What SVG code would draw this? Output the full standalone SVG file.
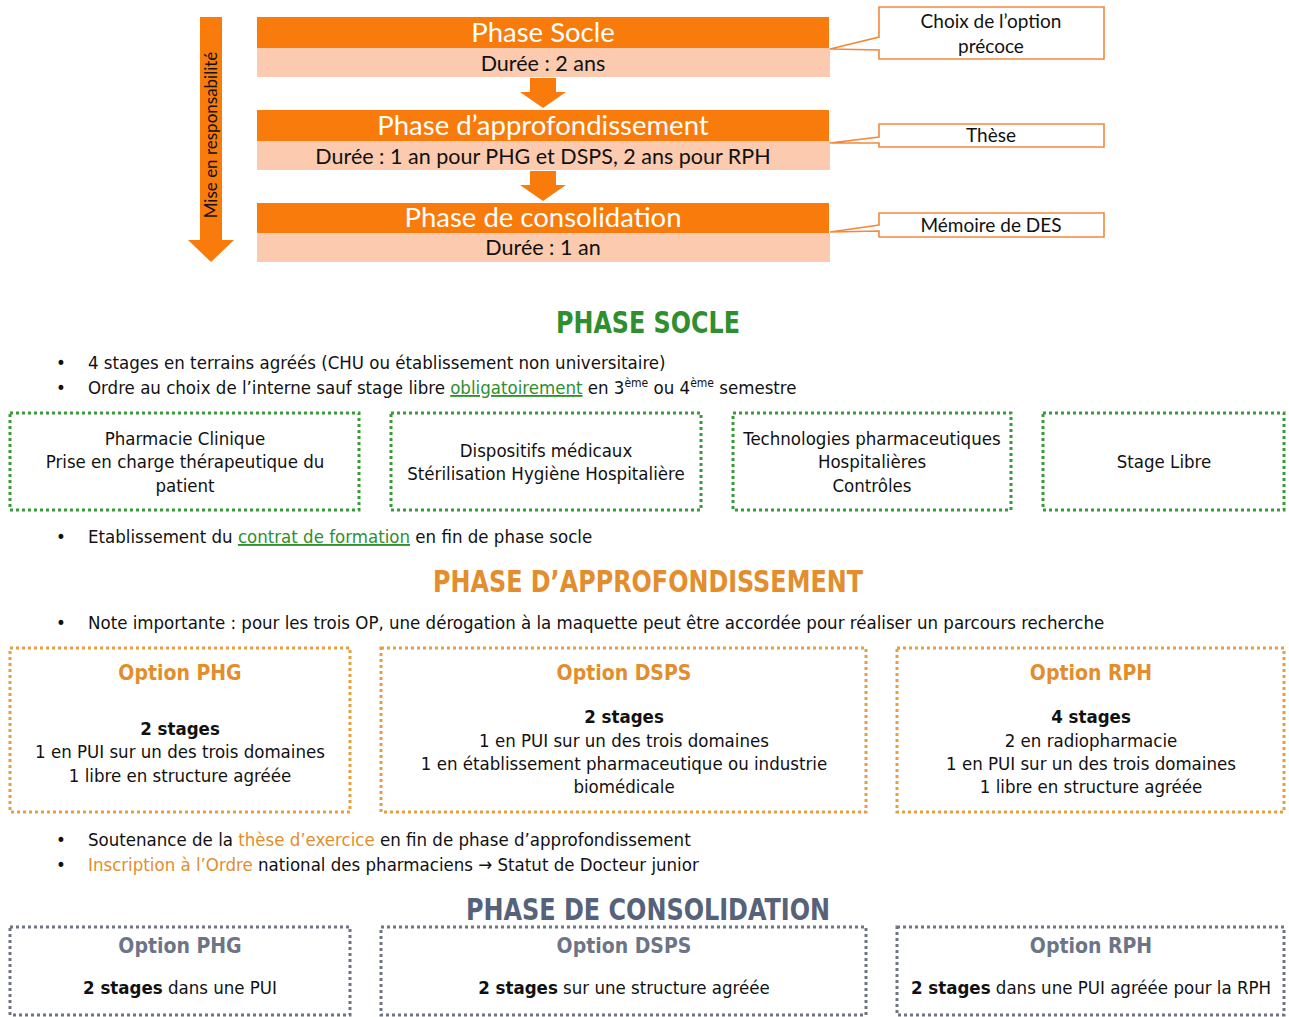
<svg xmlns="http://www.w3.org/2000/svg" width="1289" height="1017" viewBox="0 0 1289 1017">
<style>
.hdr{fill:#F97B0C}
.sub{fill:#FCCAAE}
.ht{font-family:Lato,"Open Sans",sans-serif;font-size:27.5px;fill:#fff;text-anchor:middle}
.st{font-family:Lato,"Open Sans",sans-serif;font-size:21.5px;fill:#111;text-anchor:middle}
.co{fill:#fff;stroke:#F5883A;stroke-width:1.6}
.ct{font-family:Lato,"Open Sans",sans-serif;font-size:19px;fill:#111;text-anchor:middle}
.b{font-family:"DejaVu Sans Condensed","DejaVu Sans",sans-serif;font-stretch:condensed;font-size:18.5px;fill:#111}
.c{text-anchor:middle}
.bold{font-weight:bold}
.title{font-family:"DejaVu Sans Condensed","DejaVu Sans",sans-serif;font-stretch:condensed;font-weight:bold;font-size:30px;text-anchor:middle}
.opt{font-size:21px;font-weight:bold}
.gbox{fill:none;stroke:#3A9A3A;stroke-width:3;stroke-dasharray:3 3}
.obox{fill:none;stroke:#E3A040;stroke-width:3;stroke-dasharray:3 3}
.ybox{fill:none;stroke:#6E7482;stroke-width:3;stroke-dasharray:3 3}
.green{fill:#2F8F2F}
.orange{fill:#E38D2C}
.gray{fill:#56627A}
.ogray{fill:#6C7587}
.arrow{fill:#F97B0C}
</style>

<g id="responsabilite">
<polygon class="arrow" points="200,17 222,17 222,240 234,240 211,262 188,240 200,240"/>
<text transform="translate(217,135) rotate(-90)" style="font-family:Lato,'Open Sans',sans-serif;font-size:17px;fill:#111;text-anchor:middle">Mise en responsabilité</text>
</g>

<g id="phase-socle-box">
<rect class="hdr" x="257" y="17" width="572" height="31"/>
<rect class="sub" x="257" y="48" width="573" height="29"/>
<text class="ht" x="543" y="42">Phase Socle</text>
<text class="st" x="543" y="71">Durée : 2 ans</text>
</g>

<g id="phase-approfondissement-box">
<rect class="hdr" x="257" y="110" width="572" height="31"/>
<rect class="sub" x="257" y="141" width="573" height="29"/>
<text class="ht" x="543" y="135">Phase d’approfondissement</text>
<text class="st" x="543" y="164">Durée : 1 an pour PHG et DSPS, 2 ans pour RPH</text>
</g>

<g id="phase-consolidation-box">
<rect class="hdr" x="257" y="203" width="572" height="30"/>
<rect class="sub" x="257" y="233" width="573" height="29"/>
<text class="ht" x="543" y="227">Phase de consolidation</text>
<text class="st" x="543" y="255">Durée : 1 an</text>
</g>

<g id="connectors">
<polygon class="arrow" points="530,78 556,78 556,92 566,92 543,108 520,92 530,92"/>
<polygon class="arrow" points="530,171 556,171 556,185 566,185 543,201 520,185 530,185"/>
</g>

<g id="callout-choix">
<polygon class="co" points="879,7 1104,7 1104,59 879,59 879,50 830,49 879,37"/>
<text class="ct" x="991" y="28">Choix de l’option</text>
<text class="ct" x="991" y="53">précoce</text>
</g>
<g id="callout-these">
<polygon class="co" points="879,124 1104,124 1104,147 879,147 879,143 830,143 879,137"/>
<text class="ct" x="991" y="142">Thèse</text>
</g>
<g id="callout-memoire">
<polygon class="co" points="879,213 1104,213 1104,237 879,237 879,231 830,232 879,225"/>
<text class="ct" x="991" y="232">Mémoire de DES</text>
</g>

<g id="section-socle">
<text class="title green" x="648" y="333" textLength="184" lengthAdjust="spacingAndGlyphs">PHASE SOCLE</text>
<text class="b" x="56" y="369">•</text>
<text class="b" x="88" y="369">4 stages en terrains agréés (CHU ou établissement non universitaire)</text>
<text class="b" x="56" y="394">•</text>
<text class="b" x="88" y="394">Ordre au choix de l’interne sauf stage libre <tspan class="green" text-decoration="underline">obligatoirement</tspan> en 3<tspan font-size="12" dy="-7">ème</tspan><tspan dy="7"> ou 4</tspan><tspan font-size="12" dy="-7">ème</tspan><tspan dy="7"> semestre</tspan></text>
</g>

<g id="socle-pharmacie-clinique">
<rect class="gbox" x="10" y="413" width="349" height="97"/>
<text class="b c" x="185" y="445">Pharmacie Clinique</text>
<text class="b c" x="185" y="468">Prise en charge thérapeutique du</text>
<text class="b c" x="185" y="492">patient</text>
</g>
<g id="socle-dispositifs">
<rect class="gbox" x="391" y="413" width="310" height="97"/>
<text class="b c" x="546" y="457">Dispositifs médicaux</text>
<text class="b c" x="546" y="480">Stérilisation Hygiène Hospitalière</text>
</g>
<g id="socle-technologies">
<rect class="gbox" x="733" y="413" width="278" height="97"/>
<text class="b c" x="872" y="445">Technologies pharmaceutiques</text>
<text class="b c" x="872" y="468">Hospitalières</text>
<text class="b c" x="872" y="492">Contrôles</text>
</g>
<g id="socle-libre">
<rect class="gbox" x="1043" y="413" width="241" height="97"/>
<text class="b c" x="1164" y="468">Stage Libre</text>
</g>

<g id="socle-contrat">
<text class="b" x="56" y="543">•</text>
<text class="b" x="88" y="543">Etablissement du <tspan class="green" text-decoration="underline">contrat de formation</tspan> en fin de phase socle</text>
</g>

<g id="section-approfondissement">
<text class="title orange" x="648" y="592" textLength="430" lengthAdjust="spacingAndGlyphs">PHASE D’APPROFONDISSEMENT</text>
<text class="b" x="56" y="629">•</text>
<text class="b" x="88" y="629">Note importante : pour les trois OP, une dérogation à la maquette peut être accordée pour réaliser un parcours recherche</text>
</g>

<g id="appro-phg">
<rect class="obox" x="10" y="648" width="340" height="164"/>
<text class="b c opt orange" x="180" y="680">Option PHG</text>
<text class="b c bold" x="180" y="735">2 stages</text>
<text class="b c" x="180" y="758">1 en PUI sur un des trois domaines</text>
<text class="b c" x="180" y="782">1 libre en structure agréée</text>
</g>
<g id="appro-dsps">
<rect class="obox" x="381" y="648" width="485" height="164"/>
<text class="b c opt orange" x="624" y="680">Option DSPS</text>
<text class="b c bold" x="624" y="723">2 stages</text>
<text class="b c" x="624" y="747">1 en PUI sur un des trois domaines</text>
<text class="b c" x="624" y="770">1 en établissement pharmaceutique ou industrie</text>
<text class="b c" x="624" y="793">biomédicale</text>
</g>
<g id="appro-rph">
<rect class="obox" x="897" y="648" width="387" height="164"/>
<text class="b c opt orange" x="1091" y="680">Option RPH</text>
<text class="b c bold" x="1091" y="723">4 stages</text>
<text class="b c" x="1091" y="747">2 en radiopharmacie</text>
<text class="b c" x="1091" y="770">1 en PUI sur un des trois domaines</text>
<text class="b c" x="1091" y="793">1 libre en structure agréée</text>
</g>

<g id="appro-bullets">
<text class="b" x="56" y="846">•</text>
<text class="b" x="88" y="846">Soutenance de la <tspan class="orange">thèse d’exercice</tspan> en fin de phase d’approfondissement</text>
<text class="b" x="56" y="871">•</text>
<text class="b" x="88" y="871"><tspan class="orange">Inscription à l’Ordre</tspan> national des pharmaciens → Statut de Docteur junior</text>
</g>

<g id="section-consolidation">
<text class="title gray" x="648" y="920" textLength="364" lengthAdjust="spacingAndGlyphs">PHASE DE CONSOLIDATION</text>
</g>
<g id="conso-phg">
<rect class="ybox" x="10" y="927" width="340" height="88"/>
<text class="b c opt ogray" x="180" y="953">Option PHG</text>
<text class="b c" x="180" y="994"><tspan class="bold">2 stages</tspan> dans une PUI</text>
</g>
<g id="conso-dsps">
<rect class="ybox" x="381" y="927" width="485" height="88"/>
<text class="b c opt ogray" x="624" y="953">Option DSPS</text>
<text class="b c" x="624" y="994"><tspan class="bold">2 stages</tspan> sur une structure agréée</text>
</g>
<g id="conso-rph">
<rect class="ybox" x="897" y="927" width="387" height="88"/>
<text class="b c opt ogray" x="1091" y="953">Option RPH</text>
<text class="b c" x="1091" y="994"><tspan class="bold">2 stages</tspan> dans une PUI agréée pour la RPH</text>
</g>
</svg>
